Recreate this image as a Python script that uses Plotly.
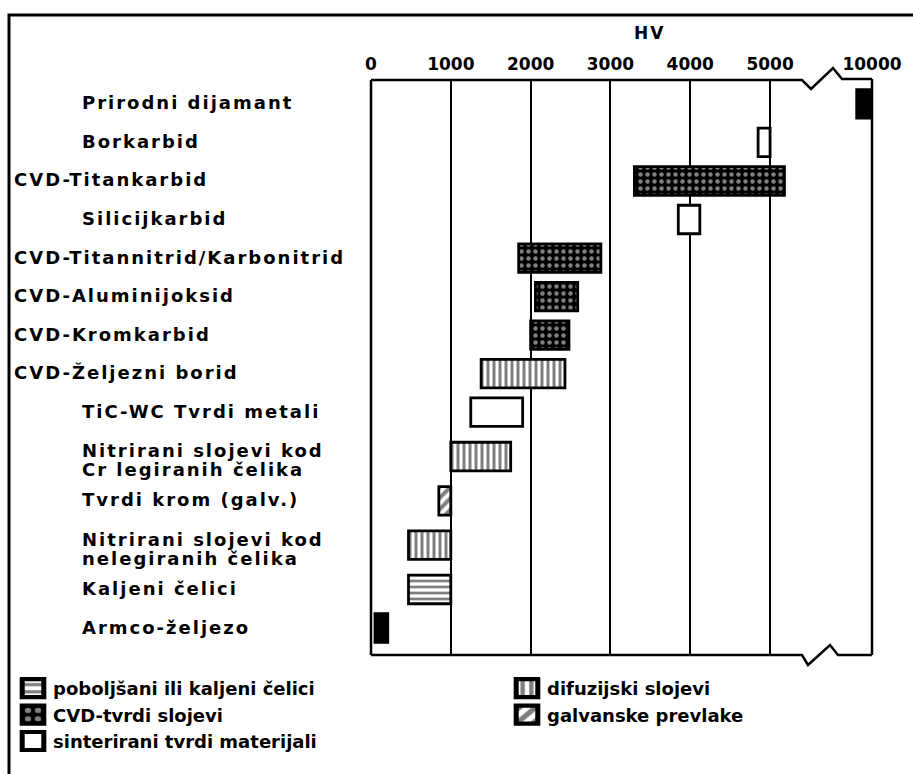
import plotly.graph_objects as go

W, H = 913, 774

# Materials, top to bottom, with their Vickers hardness range (HV)
materials = [
    "Prirodni dijamant",
    "Borkarbid",
    "CVD-Titankarbid",
    "Silicijkarbid",
    "CVD-Titannitrid/Karbonitrid",
    "CVD-Aluminijoksid",
    "CVD-Kromkarbid",
    "CVD-Željezni borid",
    "TiC-WC Tvrdi metali",
    "Nitrirani slojevi kod\nCr legiranih čelika",
    "Tvrdi krom (galv.)",
    "Nitrirani slojevi kod\nnelegiranih čelika",
    "Kaljeni čelici",
    "Armco-željezo",
]
hv_low = [9550, 4850, 3300, 3850, 1850, 2060, 2000, 1380, 1250, 1000, 850, 470, 470, 50]
hv_high = [10000, 5000, 5180, 4120, 2880, 2590, 2480, 2430, 1900, 1750, 1000, 1000, 1000, 210]
material_class = ["solid", "sinter", "cvd", "sinter", "cvd", "cvd", "cvd", "difuz",
                  "sinter", "difuz", "galv", "difuz", "poboljs", "solid"]

# Legend classes: first column, then second column
legend_col1 = ["poboljs", "cvd", "sinter"]
legend_col2 = ["difuz", "galv"]
class_names = {
    "poboljs": "poboljšani ili kaljeni čelici",
    "difuz": "difuzijski slojevi",
    "cvd": "CVD-tvrdi slojevi",
    "galv": "galvanske prevlake",
    "sinter": "sinterirani tvrdi materijali",
}

low_ticks = [0, 1000, 2000, 3000, 4000, 5000]
high_ticks = [10000]
low_range = [0, 5400]       # left part of the broken axis
high_range = [9000, 10000]  # right part, after the break

# ---- layout helpers (pixel -> paper fractions; margins are zero) ----
def px(x):
    return x / W

def py(y):
    return 1 - y / H

FONT = "DejaVu Sans"
BLACK = "#000000"

# row positions: two-line labels get a taller slot
slots = [1.3 if "\n" in m else 1.0 for m in materials]
pos = [0.0]
for i in range(1, len(materials)):
    pos.append(pos[-1] + (slots[i - 1] + slots[i]) / 2)

styles = {
    "solid": dict(color=BLACK),
    "sinter": dict(color="white"),
    "cvd": dict(color=BLACK, pattern=dict(shape=".", fgcolor="white", bgcolor=BLACK,
                                          size=7, solidity=0.32)),
    "difuz": dict(color="white", pattern=dict(shape="|", fgcolor=BLACK, bgcolor="white",
                                              size=6, solidity=0.5)),
    "galv": dict(color="white", pattern=dict(shape="/", fgcolor=BLACK, bgcolor="white",
                                             size=8, solidity=0.5)),
    "poboljs": dict(color="white", pattern=dict(shape="-", fgcolor=BLACK, bgcolor="white",
                                                size=6, solidity=0.45)),
}

fig = go.Figure()

def add_bars(cls, axis, name, showlegend, legend="legend"):
    idx = [i for i, c in enumerate(material_class)
           if c == cls and ((hv_low[i] >= high_range[0]) == (axis == "x2"))]
    if not idx and not showlegend:
        return
    fig.add_trace(go.Bar(
        orientation="h",
        y=[pos[i] for i in idx],
        base=[hv_low[i] for i in idx],
        x=[hv_high[i] - hv_low[i] for i in idx],
        width=0.74,
        xaxis=axis, yaxis="y",
        name=name, showlegend=showlegend, legend=legend,
        marker=dict(line=dict(color=BLACK, width=2.8), **styles[cls]),
        hoverinfo="skip",
    ))

for cls in legend_col1:
    add_bars(cls, "x", class_names[cls], True, "legend")
for cls in legend_col2:
    add_bars(cls, "x", class_names[cls], True, "legend2")
add_bars("solid", "x", "", False)
add_bars("solid", "x2", "", False)

# ---- frame with axis break zigzag ----
def path(points):
    return "M " + " L ".join(f"{px(x):.5f},{py(y):.5f}" for x, y in points)

top = [(371, 80), (802, 80), (811, 89), (833, 68), (842, 79), (872, 79)]
bottom = [(371, 655), (802, 655), (808, 665), (830, 645), (838, 655), (872, 655)]
frame_line = dict(color=BLACK, width=2.5)
shapes = [
    dict(type="path", xref="paper", yref="paper", path=path(top), line=frame_line),
    dict(type="path", xref="paper", yref="paper", path=path(bottom), line=frame_line),
    dict(type="line", xref="paper", yref="paper", x0=px(371), x1=px(371),
         y0=py(80), y1=py(655), line=frame_line),
    dict(type="line", xref="paper", yref="paper", x0=px(872), x1=px(872),
         y0=py(79), y1=py(655), line=frame_line),
    # outer border
    dict(type="path", xref="paper", yref="paper",
         path=path([(9, H + 5), (9, 15), (W + 5, 15)]),
         line=dict(color=BLACK, width=3)),
]

# ---- row labels ----
annotations = []
for m, p in zip(materials, pos):
    x0 = 12 if m.startswith("CVD") else 80
    lines = m.split("\n")
    shifts = [1] if len(lines) == 1 else [6, -13]
    for line, s in zip(lines, shifts):
        annotations.append(dict(
            x=px(x0), xref="paper", y=p, yref="y", text=line, showarrow=False,
            xanchor="left", yanchor="middle", align="left", yshift=s,
            font=dict(family=FONT, size=18, weight="bold", color=BLACK),
        ))
annotations.append(dict(
    x=3500, xref="x", y=py(33), yref="paper", text="HV", showarrow=False,
    xanchor="center", yanchor="middle",
    font=dict(family=FONT, size=17, weight="bold", color=BLACK),
))

tickfont = dict(family=FONT, size=17, weight="bold", color=BLACK)
legend_font = dict(family=FONT, size=18, weight="bold", color=BLACK)

fig.update_layout(
    width=W, height=H,
    margin=dict(l=0, r=0, t=0, b=0),
    paper_bgcolor="white", plot_bgcolor="white",
    barmode="overlay",
    showlegend=True,
    xaxis=dict(domain=[px(371), px(802)], range=low_range, side="top",
               tickvals=low_ticks, ticktext=[str(t) for t in low_ticks],
               showgrid=True, gridcolor=BLACK, gridwidth=2, zeroline=False,
               showline=False, ticks="", tickfont=tickfont, ticklabelstandoff=6,
               anchor="y", automargin=False, fixedrange=True),
    xaxis2=dict(domain=[px(838), px(872)], range=high_range, side="top",
                tickvals=high_ticks, ticktext=[str(t) for t in high_ticks],
                showgrid=False, zeroline=False, showline=False, ticks="",
                tickfont=tickfont, ticklabelstandoff=6,
                anchor="y", automargin=False, fixedrange=True),
    yaxis=dict(domain=[py(655), py(80)], range=[pos[-1] + 0.70, -0.62],
               showgrid=False, zeroline=False, showticklabels=False, showline=False,
               ticks="", automargin=False, fixedrange=True),
    shapes=shapes,
    annotations=annotations,
    legend=dict(orientation="v", xref="paper", yref="paper",
                x=px(13), y=py(670), xanchor="left", yanchor="top",
                itemwidth=30, font=legend_font, tracegroupgap=0,
                bgcolor="rgba(0,0,0,0)", traceorder="normal"),
    legend2=dict(orientation="v", xref="paper", yref="paper",
                 x=px(507), y=py(670), xanchor="left", yanchor="top",
                 itemwidth=30, font=legend_font, tracegroupgap=0,
                 bgcolor="rgba(0,0,0,0)", traceorder="normal"),
)

# wider letter spacing of the row labels, larger legend swatches
post_js = (
    "document.querySelectorAll('.annotation-text')"
    ".forEach(function(t){t.style.letterSpacing='2px';});"
    "document.querySelectorAll('.legendpoints path').forEach(function(p){"
    "var t=p.getAttribute('transform')||'';"
    "p.setAttribute('transform',t+' scale(1.8,1.5)');});"
)
fig.write_html("out.html", post_script=post_js, config={"displayModeBar": False})
